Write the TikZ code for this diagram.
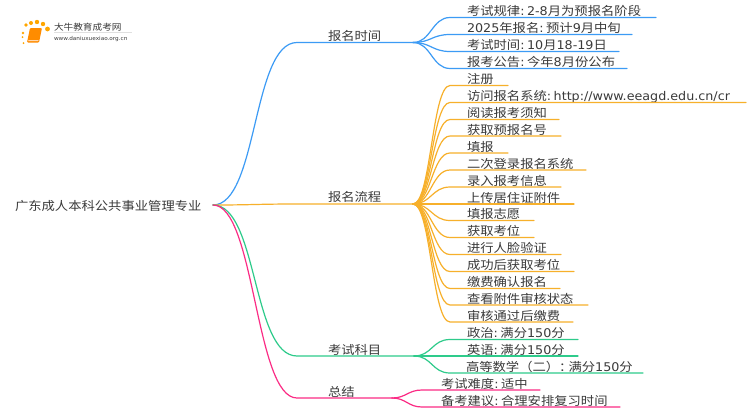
\documentclass[tikz,border=0pt]{standalone}
\usepackage{fontspec}
\setmainfont{Noto Sans CJK SC}[FakeStretch=1.11]
\newfontfamily\latf{DejaVu Sans}[FakeStretch=1.06]
\newcommand{\lat}[1]{{\latf #1}}
\newcommand{\cln}{\lat{:}\hspace{2.5pt}}
\newcommand{\ins}{\hspace*{17pt}}
\definecolor{bluel}{HTML}{3C9BF5}
\definecolor{orangel}{HTML}{F7B02B}
\definecolor{greenl}{HTML}{2ECB8B}
\definecolor{pinkl}{HTML}{FB2C85}
\definecolor{inkl}{HTML}{3A3A3A}
\tikzset{
  txt/.style={text=inkl,font=\fontsize{12}{13}\selectfont,inner sep=0pt,outer sep=0pt},
  leaf/.style={txt,anchor=south west,text width=#1 pt,align=left,text depth=1.8pt},
  conn/.style={line width=1.2pt,line cap=round},
  dotl/.style={fill=orange!70!yellow,draw=none}
}
\begin{document}
\begin{tikzpicture}[x=1pt,y=-1pt]
      \useasboundingbox (0,0) rectangle (750,410);
      \fill[white] (0,0) rectangle (750,410);

      % logo
      \foreach \px/\py/\pr in {23/33/1.3,26/25/1.8,31/23/2,37/22/2.2,43/24/2.2,47.5/29/2.4,22.5/37/1,23.5/43/1}
        \fill[dotl] (\px,\py) circle (\pr);
      \fill[orange!90!yellow,rounded corners=1pt] (30,28) -- (42,28) -- (39,42.5) -- (27,42.5) -- cycle;
      \fill[white!70!orange] (28.5,40) -- (38.5,40) -- (38.2,41) -- (28.2,41) -- cycle;
      \node[txt,font=\fontsize{8.7}{9}\selectfont,anchor=west] (logoname) at (54,27) {大牛教育成考网};
      \node[txt,font=\fontsize{5.4}{6}\selectfont\latf,anchor=west] (logourl) at (54,39) {www.daniuxuexiao.org.cn};
      \draw[black!12,line width=.4pt] (logoname.south west) ++(0,1.5) -- ++(78,0);

      % root and forks
      \node[txt,anchor=west] (root) at (15,205.5) {广东成人本科公共事业管理专业};
      \coordinate (start) at (213,205);
      \coordinate (forka) at (413,42.5);
      \coordinate (forkb) at (413,204);
      \coordinate (forkc) at (414,356);
      \coordinate (forkd) at (392,398);

      \node[txt,anchor=west] (time) at (328,36) {报名时间};
      \node[txt,anchor=west] (flow) at (328,197) {报名流程};
      \node[txt,anchor=west] (subj) at (328,349.5) {考试科目};
      \node[txt,anchor=west] (sum) at (328,391.5) {总结};

      \draw[conn,bluel] (start) .. controls +(45,0) and +(-45,0) .. (297,42.5) -- (forka);
      \draw[conn,orangel] (start) .. controls +(40,0) and +(-40,0) .. (297,204) -- (forkb);
      \draw[conn,greenl] (start) .. controls +(45,0) and +(-45,0) .. (297,356) -- (forkc);
      \draw[conn,pinkl] (start) .. controls +(42,0) and +(-42,0) .. (297,398) -- (forkd);

      % first group
      \node[leaf=206] (a1) at (450,17.5) {\ins 考试规律\cln\lat{2-8}月为预报名阶段};
      \node[leaf=182] (a2) at (450,34.5) {\ins\lat{2025}年报名\cln 预计\lat{9}月中旬};
      \node[leaf=169] (a3) at (450,51.5) {\ins 考试时间\cln\lat{10}月\lat{18-19}日};
      \node[leaf=177] (a4) at (450,68.5) {\ins 报考公告\cln 今年\lat{8}月份公布};
      \foreach \leafname in {a1,a2,a3,a4}
        \draw[conn,bluel] (forka) .. controls +(18,0) and +(-18,0) .. (\leafname.south west) -- (\leafname.south east);

      % second group
      \node[leaf=58] (b1) at (450,85.5) {\ins 注册};
      \node[leaf=296] (b2) at (450,102.5) {\ins 访问报名系统\cln\lat{http://www.eeagd.edu.cn/cr}};
      \node[leaf=109] (b3) at (450,119.5) {\ins 阅读报考须知};
      \node[leaf=111] (b4) at (450,136) {\ins 获取预报名号};
      \node[leaf=58] (b5) at (450,153) {\ins 填报};
      \node[leaf=136] (b6) at (450,170) {\ins 二次登录报名系统};
      \node[leaf=111] (b7) at (450,187) {\ins 录入报考信息};
      \node[leaf=124] (b8) at (450,204) {\ins 上传居住证附件};
      \node[leaf=84] (b9) at (450,220.5) {\ins 填报志愿};
      \node[leaf=84] (b10) at (450,237.5) {\ins 获取考位};
      \node[leaf=111] (b11) at (450,254.5) {\ins 进行人脸验证};
      \node[leaf=124] (b12) at (450,271.5) {\ins 成功后获取考位};
      \node[leaf=110] (b13) at (450,288.5) {\ins 缴费确认报名};
      \node[leaf=138] (b14) at (450,305) {\ins 查看附件审核状态};
      \node[leaf=123] (b15) at (450,322) {\ins 审核通过后缴费};
      \foreach \leafname in {b1,b2,b3,b4,b5,b6,b7,b8,b9,b10,b11,b12,b13,b14,b15}
        \draw[conn,orangel] (forkb) .. controls +(18,0) and +(-18,0) .. (\leafname.south west) -- (\leafname.south east);

      % third group
      \node[leaf=128] (c1) at (450,339.5) {\ins 政治\cln 满分\lat{150}分};
      \node[leaf=128] (c2) at (450,356) {\ins 英语\cln 满分\lat{150}分};
      \node[leaf=193] (c3) at (450,373) {\hspace*{16pt}高等数学（二）：\hspace{-4pt}满分\lat{150}分};
      \foreach \leafname in {c1,c2,c3}
        \draw[conn,greenl] (forkc) .. controls +(18,0) and +(-18,0) .. (\leafname.south west) -- (\leafname.south east);

      % last group
      \node[leaf=118] (d1) at (422,390) {\hspace*{19pt}考试难度\cln 适中};
      \node[leaf=198] (d2) at (422,407) {\hspace*{19pt}备考建议\cln 合理安排复习时间};
      \foreach \leafname in {d1,d2}
        \draw[conn,pinkl] (forkd) .. controls +(14,0) and +(-14,0) .. (\leafname.south west) -- (\leafname.south east);
    \end{tikzpicture}
\end{document}
